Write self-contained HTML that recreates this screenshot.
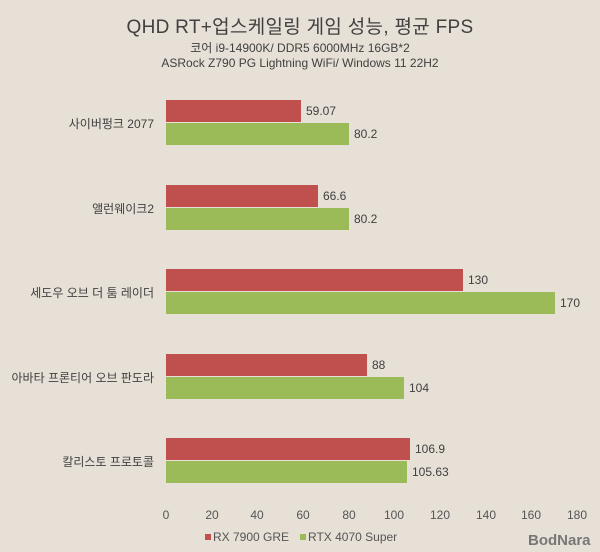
<!DOCTYPE html>
<html><head><meta charset="utf-8"><style>
body{margin:0;width:600px;height:552px;background:#e6e0d6;font-family:"Liberation Sans","Noto Sans CJK KR",sans-serif;color:#404040;position:relative;overflow:hidden}
.t{position:absolute;left:0;width:600px;text-align:center;white-space:nowrap}
.b{position:absolute;height:22px}
.r{background:#c0504d}.g{background:#9bbb59}
.v{position:absolute;font-size:12px;color:#404040}
.c{position:absolute;right:446px;font-size:12px;text-align:right;white-space:nowrap}
.x{position:absolute;top:508px;font-size:12px;width:40px;text-align:center;color:#555}
</style></head><body>
<div class="t" style="top:12px;font-size:19px;letter-spacing:0.3px">QHD RT+업스케일링 게임 성능, 평균 FPS</div>
<div class="t" style="top:39px;font-size:12px">코어 i9-14900K/ DDR5 6000MHz 16GB*2</div>
<div class="t" style="top:56px;font-size:12px">ASRock Z790 PG Lightning WiFi/ Windows 11 22H2</div>

<div class="c" style="top:115px">사이버펑크 2077</div>
<div class="b r" style="left:166px;top:100px;width:135px"></div><div class="v" style="left:306px;top:104px">59.07</div>
<div class="b g" style="left:166px;top:123px;width:183px"></div><div class="v" style="left:354px;top:127px">80.2</div>

<div class="c" style="top:200px">앨런웨이크2</div>
<div class="b r" style="left:166px;top:185px;width:152px"></div><div class="v" style="left:323px;top:189px">66.6</div>
<div class="b g" style="left:166px;top:208px;width:183px"></div><div class="v" style="left:354px;top:212px">80.2</div>

<div class="c" style="top:284px">세도우 오브 더 툼 레이더</div>
<div class="b r" style="left:166px;top:269px;width:297px"></div><div class="v" style="left:468px;top:273px">130</div>
<div class="b g" style="left:166px;top:292px;width:389px"></div><div class="v" style="left:560px;top:296px">170</div>

<div class="c" style="top:369px">아바타 프론티어 오브 판도라</div>
<div class="b r" style="left:166px;top:354px;width:201px"></div><div class="v" style="left:372px;top:358px">88</div>
<div class="b g" style="left:166px;top:377px;width:238px"></div><div class="v" style="left:409px;top:381px">104</div>

<div class="c" style="top:453px">칼리스토 프로토콜</div>
<div class="b r" style="left:166px;top:438px;width:244px"></div><div class="v" style="left:415px;top:442px">106.9</div>
<div class="b g" style="left:166px;top:461px;width:241px"></div><div class="v" style="left:412px;top:465px">105.63</div>

<div class="x" style="left:146px">0</div>
<div class="x" style="left:192px">20</div>
<div class="x" style="left:237px">40</div>
<div class="x" style="left:283px">60</div>
<div class="x" style="left:329px">80</div>
<div class="x" style="left:374px">100</div>
<div class="x" style="left:420px">120</div>
<div class="x" style="left:466px">140</div>
<div class="x" style="left:511px">160</div>
<div class="x" style="left:557px">180</div>

<div style="position:absolute;left:205px;top:534px;width:6px;height:6px;background:#c0504d"></div>
<div style="position:absolute;left:213px;top:530px;font-size:12px;color:#555">RX 7900 GRE</div>
<div style="position:absolute;left:300px;top:534px;width:6px;height:6px;background:#9bbb59"></div>
<div style="position:absolute;left:308px;top:530px;font-size:12px;color:#555">RTX 4070 Super</div>
<div style="position:absolute;left:528px;top:532px;font-size:15px;font-weight:bold;color:#777">BodNara</div>
</body></html>
